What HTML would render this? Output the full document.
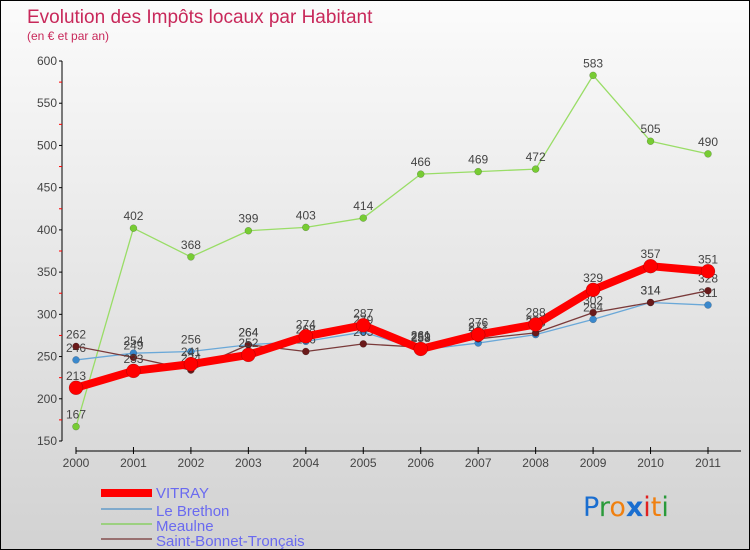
<!DOCTYPE html>
<html><head><meta charset="utf-8"><style>
body{margin:0}
#wrap{position:relative;width:748px;height:548px;border:1px solid #000;background:linear-gradient(#fbfbfb,#d2d2d2);overflow:hidden;font-family:"Liberation Sans",sans-serif}
</style></head><body>
<div id="wrap">
<svg id="svg" width="748" height="548" xmlns="http://www.w3.org/2000/svg" style="position:absolute;left:0;top:0">
<text x="26" y="22" font-size="19" fill="#c8285a">Evolution des Impôts locaux par Habitant</text>
<text x="26" y="39" font-size="12" fill="#c8285a">(en € et par an)</text>
<g id="axes"></g><g id="series"></g>
<g>
<rect x="100" y="488" width="51" height="8" fill="#f00"/>
<text x="155" y="497" font-size="15" fill="#6a6af0">VITRAY</text>
<rect x="100" y="507" width="51" height="2" fill="#80aacc"/>
<text x="155" y="515" font-size="15" fill="#6a6af0">Le Brethon</text>
<rect x="100" y="522" width="51" height="2" fill="#9cd080"/>
<text x="155" y="530" font-size="15" fill="#6a6af0">Meaulne</text>
<rect x="100" y="537" width="51" height="2" fill="#987070"/>
<text x="155" y="545" font-size="15" fill="#6a6af0">Saint-Bonnet-Tronçais</text>
</g>
<text x="582" y="515" font-size="27" font-family="DejaVu Sans"><tspan fill="#1a6ed0">P</tspan><tspan fill="#2a9a3a">r</tspan><tspan fill="#f08010">o</tspan><tspan fill="#1a6ed0" font-weight="bold">x</tspan><tspan fill="#e02020">i</tspan><tspan fill="#f08010">t</tspan><tspan fill="#2a9a3a">i</tspan></text>
</svg>
</div>
<script>
const years=["2000","2001","2002","2003","2004","2005","2006","2007","2008","2009","2010","2011"];
const yTicks=[150,200,250,300,350,400,450,500,550,600];
const vitray=[213,233,241,252,274,287,259,276,288,329,357,351];
const brethon=[246,254,256,264,268,279,258,266,276,294,314,311];
const meaulne=[167,402,368,399,403,414,466,469,472,583,505,490];
const stbonnet=[262,249,234,264,256,265,261,271,278,302,314,328];
const NS="http://www.w3.org/2000/svg";
const x=i=>75+i*(707-75)/11;
const y=v=>440-(v-150)*380/450;
function mk(p,t,a){const e=document.createElementNS(NS,t);for(const k in a)e.setAttribute(k,a[k]);p.appendChild(e);return e;}
const ax=document.getElementById('axes'),sg=document.getElementById('series');
const yl=mk(ax,'line',{x1:61,y1:60,x2:61,y2:440,stroke:'#000'});


yTicks.forEach(v=>{
  mk(ax,'line',{x1:58,y1:y(v),x2:61,y2:y(v),stroke:'#000'});
  if(v<600)mk(ax,'line',{x1:58,y1:y(v+25),x2:61,y2:y(v+25),stroke:'#f00'});
  const t=mk(ax,'text',{x:56,y:y(v)+4,'font-size':12,'text-anchor':'end',fill:'#444'});
  t.textContent=v;
  
  
});
const xl=mk(ax,'line',{x1:75,y1:450,x2:740,y2:450,stroke:'#000'});


years.forEach((yr,i)=>{
  mk(ax,'line',{x1:x(i),y1:446,x2:x(i),y2:453,stroke:'#000'});
  const t=mk(ax,'text',{x:x(i),y:466,'font-size':12,'text-anchor':'middle',fill:'#444'});
  t.textContent=yr;
  
  
});
function series(d,name,col,w,r,mcol){
  const g=mk(sg,'g',{});
  
  
  const pl=mk(g,'polyline',{points:d.map((v,i)=>x(i)+','+y(v)).join(' '),fill:'none',stroke:col,'stroke-width':w,'stroke-linejoin':'round'});
  
  
  d.forEach((v,i)=>{
    const c=mk(g,'circle',{cx:x(i),cy:y(v),r:r,fill:mcol,stroke:'rgba(0,0,0,0.3)','stroke-width':0.5});
    
    
    const t=mk(g,'text',{x:x(i),y:y(v)-8,'font-size':12,'text-anchor':'middle',fill:'#444'});
    t.textContent=v;
    
    
  });
}
series(meaulne,'meaulne','#99dd66',1.3,3.5,'#77cc33');
series(brethon,'le-brethon','#6aa8d8',1.3,3.5,'#3a88cc');
series(stbonnet,'saint-bonnet-troncais','#7a3a3a',1.3,3.5,'#6a1a1a');
series(vitray,'vitray','#ff0000',8,7,'#ff0000');
</script>
</body></html>
